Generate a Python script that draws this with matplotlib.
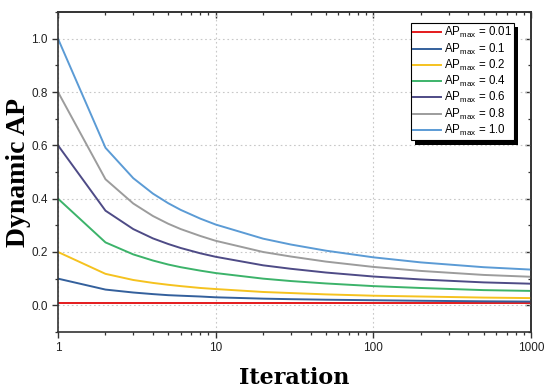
import matplotlib
matplotlib.use("Agg")
import matplotlib.pyplot as plt
from matplotlib.ticker import LogLocator, MultipleLocator, NullFormatter
from matplotlib.patches import Rectangle

plt.rcParams['font.family'] = ['Liberation Sans', 'DejaVu Sans']
plt.rcParams['mathtext.fontset'] = 'custom'
plt.rcParams['mathtext.rm'] = 'Liberation Sans'
plt.rcParams['mathtext.it'] = 'Liberation Sans:italic'

iterations = [1, 2, 3, 4, 5, 6, 8, 10, 20, 30, 50, 100, 200, 500, 1000]
ap_001 = [0.010, 0.010, 0.010, 0.010, 0.010, 0.010, 0.010, 0.010, 0.010, 0.010, 0.010, 0.010, 0.010, 0.010, 0.010]
ap_01 = [0.100, 0.059, 0.048, 0.042, 0.038, 0.036, 0.033, 0.030, 0.025, 0.023, 0.021, 0.019, 0.017, 0.015, 0.014]
ap_02 = [0.200, 0.118, 0.095, 0.084, 0.077, 0.072, 0.065, 0.061, 0.050, 0.046, 0.041, 0.036, 0.033, 0.029, 0.027]
ap_04 = [0.400, 0.236, 0.191, 0.168, 0.153, 0.143, 0.130, 0.121, 0.100, 0.091, 0.082, 0.072, 0.065, 0.057, 0.054]
ap_06 = [0.600, 0.355, 0.286, 0.251, 0.230, 0.215, 0.195, 0.182, 0.150, 0.137, 0.123, 0.108, 0.097, 0.086, 0.081]
ap_08 = [0.800, 0.473, 0.382, 0.335, 0.306, 0.286, 0.260, 0.242, 0.200, 0.183, 0.164, 0.144, 0.129, 0.114, 0.107]
ap_10 = [1.000, 0.591, 0.477, 0.419, 0.383, 0.358, 0.325, 0.303, 0.250, 0.228, 0.205, 0.180, 0.161, 0.143, 0.134]

series = [ap_001, ap_01, ap_02, ap_04, ap_06, ap_08, ap_10]
labels = ['0.01', '0.1', '0.2', '0.4', '0.6', '0.8', '1.0']
colors = ['#e41a1c', '#34609c', '#f5c21f', '#3cb36a', '#4e4b86', '#9c9c9c', '#5b9bd5']
x_ticks = [1, 10, 100, 1000]
x_ticklabels = ['1', '10', '100', '1000']
y_ticks = [0.0, 0.2, 0.4, 0.6, 0.8, 1.0]
y_ticklabels = ['0.0', '0.2', '0.4', '0.6', '0.8', '1.0']

fig = plt.figure(figsize=(5.5, 3.91), dpi=100)
ax = fig.add_axes([0.1055, 0.151, 0.86, 0.818])

for ys, lab, c in zip(series, labels, colors):
    ax.plot(iterations, ys, color=c, lw=1.4, label=r'AP$_{\mathrm{max}}$ = ' + lab)

ax.set_xscale('log')
ax.set_xlim(1, 1000)
ax.set_ylim(-0.1, 1.1)
ax.set_xticks(x_ticks)
ax.set_xticklabels(x_ticklabels)
ax.xaxis.set_minor_locator(LogLocator(base=10, subs=range(2, 10)))
ax.xaxis.set_minor_formatter(NullFormatter())
ax.set_yticks(y_ticks)
ax.set_yticklabels(y_ticklabels)
ax.yaxis.set_minor_locator(MultipleLocator(0.1))

ax.tick_params(which='both', direction='out', labelsize=8.5, colors='#333333', labelcolor='#222222')
ax.tick_params(which='major', length=4.5, width=1, pad=3)
ax.tick_params(which='minor', length=2.5, width=0.9)

# mirrored top / right ticks pointing inward
top = ax.secondary_xaxis('top')
top.set_xticks(x_ticks)
top.xaxis.set_minor_locator(LogLocator(base=10, subs=range(2, 10)))
top.xaxis.set_minor_formatter(NullFormatter())
top.tick_params(which='both', direction='in', labeltop=False, colors='#333333')
top.tick_params(which='major', length=4.5, width=1)
top.tick_params(which='minor', length=2.5, width=0.9)
top.spines['top'].set_linewidth(1.2)
top.spines['top'].set_color('#333333')

right = ax.secondary_yaxis('right')
right.set_yticks(y_ticks)
right.yaxis.set_minor_locator(MultipleLocator(0.1))
right.tick_params(which='both', direction='in', labelright=False, colors='#333333')
right.tick_params(which='major', length=4.5, width=1)
right.tick_params(which='minor', length=2.5, width=0.9)
right.spines['right'].set_linewidth(1.2)
right.spines['right'].set_color('#333333')

for s in ax.spines.values():
    s.set_linewidth(1.2)
    s.set_color('#333333')

ax.grid(True, which='major', linestyle=(0, (1.5, 2.5)), color='#c8c8c8', linewidth=0.8)

ax.set_xlabel('Iteration', family='DejaVu Serif', fontweight='bold', fontsize=16, labelpad=9)
ax.set_ylabel('Dynamic AP', family='Liberation Serif', fontweight='bold', fontsize=20)
ax.yaxis.set_label_coords(-0.057, 0.5)

leg = ax.legend(loc='upper right', fontsize=8.3, frameon=True, fancybox=False, framealpha=1,
                edgecolor='black', handlelength=2.4, handletextpad=0.25, labelspacing=0.1,
                borderpad=0.2, borderaxespad=0, bbox_to_anchor=(0.964, 0.966))
leg.get_frame().set_linewidth(0.8)
leg.set_zorder(10)

# solid black drop shadow of the legend box
fig.canvas.draw()
bb = leg.get_window_extent().transformed(fig.transFigure.inverted())
dx, dy = 4.5 / 550, 4.5 / 391
shadow = Rectangle((bb.x0 + dx, bb.y0 - dy), bb.width, bb.height, transform=fig.transFigure,
                   facecolor='black', edgecolor='none', zorder=9)
ax.add_artist(shadow)
shadow.set_clip_on(False)

fig.savefig('out.png', dpi=100)
